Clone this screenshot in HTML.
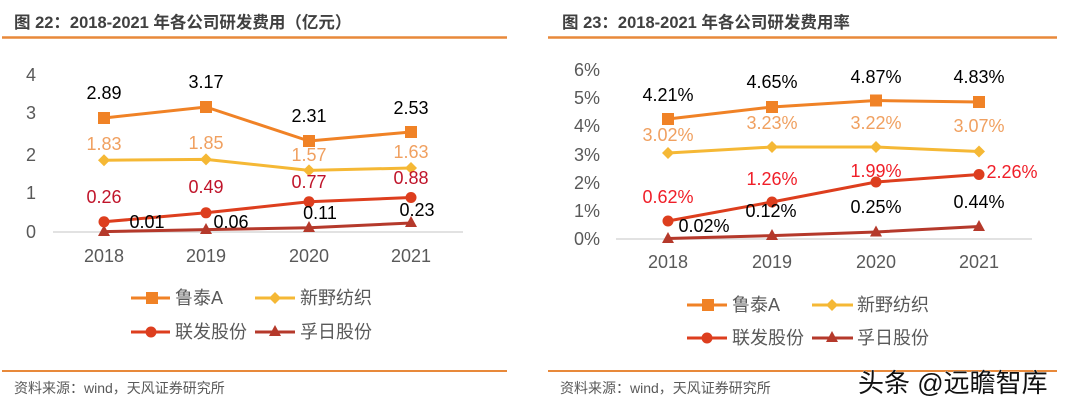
<!DOCTYPE html>
<html><head><meta charset="utf-8"><style>
html,body{margin:0;padding:0;background:#fff;}
svg{display:block;}
text{font-family:"Liberation Sans","Noto Sans CJK SC",sans-serif;}
</style></head><body>
<svg width="1075" height="407" viewBox="0 0 1075 407" xmlns="http://www.w3.org/2000/svg">
<!-- LEFT -->
<text x="14" y="28" font-size="16.5" font-weight="bold" fill="#404040">图 22：2018-2021 年各公司研发费用（亿元）</text>
<line x1="2" y1="37.5" x2="507" y2="37.5" stroke="#E8893A" stroke-width="2.5"/>
<g font-size="18" fill="#595959" text-anchor="middle">
<text x="31" y="81">4</text><text x="31" y="119">3</text><text x="31" y="161">2</text><text x="31" y="199">1</text><text x="31" y="238">0</text>
<text x="104" y="262">2018</text><text x="206" y="262">2019</text><text x="309" y="262">2020</text><text x="411" y="262">2021</text>
</g>
<line x1="53" y1="232" x2="463" y2="232" stroke="#d9d9d9" stroke-width="1.5"/>
<!-- 孚日 -->
<polyline points="104,231.6 206,229.6 309,227.7 411,223" fill="none" stroke="#B5392B" stroke-width="3"/>
<g fill="#B5392B"><polygon points="104,225 110,236 98,236"/><polygon points="206,223 212,234 200,234"/><polygon points="309,221 315,232 303,232"/><polygon points="411,216 417,227 405,227"/></g>
<!-- 联发 -->
<polyline points="104,221.8 206,212.8 309,201.8 411,197.5" fill="none" stroke="#DD3E1E" stroke-width="3"/>
<g fill="#DD3E1E"><circle cx="104" cy="221.8" r="5.5"/><circle cx="206" cy="212.8" r="5.5"/><circle cx="309" cy="201.8" r="5.5"/><circle cx="411" cy="197.5" r="5.5"/></g>
<!-- 新野 -->
<polyline points="104,160.2 206,159.4 309,170.4 411,168" fill="none" stroke="#F5B835" stroke-width="3"/>
<g fill="#F5B835"><polygon points="104,154.2 110,160.2 104,166.2 98,160.2"/><polygon points="206,153.4 212,159.4 206,165.4 200,159.4"/><polygon points="309,164.4 315,170.4 309,176.4 303,170.4"/><polygon points="411,162 417,168 411,174 405,168"/></g>
<!-- 鲁泰 -->
<polyline points="104,118 206,107 309,141 411,132" fill="none" stroke="#F08226" stroke-width="3"/>
<g fill="#F08226"><rect x="98" y="112" width="12" height="12"/><rect x="200" y="101" width="12" height="12"/><rect x="303" y="135" width="12" height="12"/><rect x="405" y="126" width="12" height="12"/></g>
<g font-size="18" text-anchor="middle">
<text x="104" y="99" fill="#000">2.89</text><text x="206" y="88" fill="#000">3.17</text><text x="309" y="122" fill="#000">2.31</text><text x="411" y="114" fill="#000">2.53</text>
<text x="104" y="150" fill="#F0A060">1.83</text><text x="206" y="149" fill="#F0A060">1.85</text><text x="309" y="161" fill="#F0A060">1.57</text><text x="411" y="158" fill="#F0A060">1.63</text>
<text x="104" y="203" fill="#C0142A">0.26</text><text x="206" y="193" fill="#C0142A">0.49</text><text x="309" y="188" fill="#C0142A">0.77</text><text x="411" y="184" fill="#C0142A">0.88</text>
<text x="147" y="228" fill="#000">0.01</text><text x="231" y="228" fill="#000">0.06</text><text x="320" y="219" fill="#000">0.11</text><text x="417" y="216" fill="#000">0.23</text>
</g>
<!-- legend left -->
<g>
<line x1="131" y1="298" x2="170" y2="298" stroke="#F08226" stroke-width="3"/><rect x="146" y="292" width="12" height="12" fill="#F08226"/>
<line x1="255" y1="298" x2="295" y2="298" stroke="#F5B835" stroke-width="3"/><polygon points="275,292 281,298 275,304 269,298" fill="#F5B835"/>
<line x1="131" y1="332" x2="170" y2="332" stroke="#DD3E1E" stroke-width="3"/><circle cx="151" cy="332" r="5.5" fill="#DD3E1E"/>
<line x1="255" y1="332" x2="295" y2="332" stroke="#B5392B" stroke-width="3"/><polygon points="275,325 281,336 269,336" fill="#B5392B"/>
<g font-size="18" fill="#595959"><text x="175" y="304">鲁泰A</text><text x="300" y="304">新野纺织</text><text x="175" y="338">联发股份</text><text x="300" y="338">孚日股份</text></g>
</g>
<line x1="2" y1="371" x2="507" y2="371" stroke="#E8893A" stroke-width="2"/>
<text x="14" y="393" font-size="14" fill="#595959">资料来源：wind，天风证券研究所</text>

<!-- RIGHT -->
<text x="562" y="28" font-size="16.5" font-weight="bold" fill="#404040">图 23：2018-2021 年各公司研发费用率</text>
<line x1="548" y1="37.5" x2="1057" y2="37.5" stroke="#E8893A" stroke-width="2.5"/>
<g font-size="18" fill="#595959" text-anchor="end">
<text x="600" y="76">6%</text><text x="600" y="104">5%</text><text x="600" y="132">4%</text><text x="600" y="161">3%</text><text x="600" y="189">2%</text><text x="600" y="217">1%</text><text x="600" y="245">0%</text>
</g>
<g font-size="18" fill="#595959" text-anchor="middle">
<text x="668" y="268">2018</text><text x="772" y="268">2019</text><text x="876" y="268">2020</text><text x="979" y="268">2021</text>
</g>
<line x1="616" y1="239" x2="1032" y2="239" stroke="#d9d9d9" stroke-width="1.5"/>
<polyline points="668,238.5 772,235.6 876,232 979,226.5" fill="none" stroke="#B5392B" stroke-width="3"/>
<g fill="#B5392B"><polygon points="668,232 674,243 662,243"/><polygon points="772,229 778,240 766,240"/><polygon points="876,225.5 882,236.5 870,236.5"/><polygon points="979,220 985,231 973,231"/></g>
<polyline points="668,221 772,202 876,182 979,174.5" fill="none" stroke="#DD3E1E" stroke-width="3"/>
<g fill="#DD3E1E"><circle cx="668" cy="221" r="5.5"/><circle cx="772" cy="202" r="5.5"/><circle cx="876" cy="182" r="5.5"/><circle cx="979" cy="174.5" r="5.5"/></g>
<polyline points="668,153 772,147 876,147 979,151.5" fill="none" stroke="#F5B835" stroke-width="3"/>
<g fill="#F5B835"><polygon points="668,147 674,153 668,159 662,153"/><polygon points="772,141 778,147 772,153 766,147"/><polygon points="876,141 882,147 876,153 870,147"/><polygon points="979,145.5 985,151.5 979,157.5 973,151.5"/></g>
<polyline points="668,119 772,107 876,100.5 979,102" fill="none" stroke="#F08226" stroke-width="3"/>
<g fill="#F08226"><rect x="662" y="113" width="12" height="12"/><rect x="766" y="101" width="12" height="12"/><rect x="870" y="94.5" width="12" height="12"/><rect x="973" y="96" width="12" height="12"/></g>
<g font-size="18" text-anchor="middle">
<text x="668" y="101" fill="#000">4.21%</text><text x="772" y="88" fill="#000">4.65%</text><text x="876" y="83" fill="#000">4.87%</text><text x="979" y="83" fill="#000">4.83%</text>
<text x="668" y="141" fill="#F0A060">3.02%</text><text x="772" y="129" fill="#F0A060">3.23%</text><text x="876" y="129" fill="#F0A060">3.22%</text><text x="979" y="132" fill="#F0A060">3.07%</text>
<text x="668" y="203" fill="#F01E28">0.62%</text><text x="772" y="185" fill="#F01E28">1.26%</text><text x="876" y="177" fill="#F01E28">1.99%</text><text x="1012" y="178" fill="#F01E28">2.26%</text>
<text x="704" y="232" fill="#000">0.02%</text><text x="771" y="217" fill="#000">0.12%</text><text x="876" y="213" fill="#000">0.25%</text><text x="979" y="208" fill="#000">0.44%</text>
</g>
<g>
<line x1="687" y1="305" x2="727" y2="305" stroke="#F08226" stroke-width="3"/><rect x="702" y="299" width="12" height="12" fill="#F08226"/>
<line x1="812" y1="305" x2="853" y2="305" stroke="#F5B835" stroke-width="3"/><polygon points="832,299 838,305 832,311 826,305" fill="#F5B835"/>
<line x1="687" y1="338" x2="727" y2="338" stroke="#DD3E1E" stroke-width="3"/><circle cx="707" cy="338" r="5.5" fill="#DD3E1E"/>
<line x1="812" y1="338" x2="853" y2="338" stroke="#B5392B" stroke-width="3"/><polygon points="832,331 838,342 826,342" fill="#B5392B"/>
<g font-size="18" fill="#595959"><text x="732" y="311">鲁泰A</text><text x="857" y="311">新野纺织</text><text x="732" y="344">联发股份</text><text x="857" y="344">孚日股份</text></g>
</g>
<line x1="548" y1="371" x2="1057" y2="371" stroke="#E8893A" stroke-width="2"/>
<text x="560" y="393" font-size="14" fill="#595959">资料来源：wind，天风证券研究所</text>
<text x="858" y="392" font-size="26" fill="#111" stroke="#fff" stroke-width="0.6" paint-order="stroke">头条 @远瞻智库</text>
</svg>
</body></html>
